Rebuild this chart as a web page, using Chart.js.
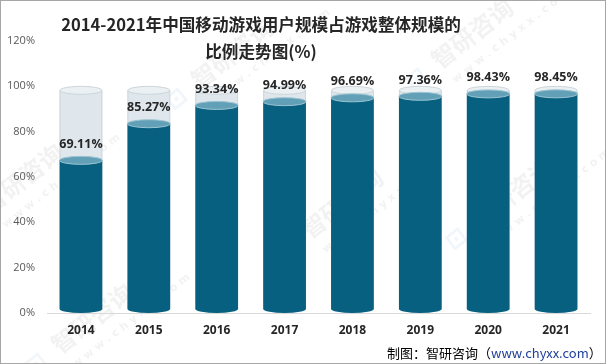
<!DOCTYPE html>
<html lang="zh">
<head>
<meta charset="UTF-8">
<title>2014-2021年中国移动游戏用户规模占游戏整体规模的比例走势图</title>
<script src="https://cdn.jsdelivr.net/npm/chart.js"></script>
<style>
  html, body { margin: 0; padding: 0; background: #fff; }
  #wrap { width: 606px; height: 364px; }
</style>
</head>
<body>
<div id="wrap"><canvas id="chart" width="606" height="364"></canvas></div>
<script>
// data
const years = ['2014', '2015', '2016', '2017', '2018', '2019', '2020', '2021'];
const shares = [69.11, 85.27, 93.34, 94.99, 96.69, 97.36, 98.43, 98.45];
const fullShare = [100, 100, 100, 100, 100, 100, 100, 100];
const yTicks = [0, 20, 40, 60, 80, 100, 120];
const titleLines = ['2014-2021年中国移动游戏用户规模占游戏整体规模的', '比例走势图(%)'];
const sourceLabel = '制图：智研咨询（';
const sourceUrl = 'www.chyxx.com';
const sourceEnd = '）';

const DARK = '#07607f';
const DARK_TOP = '#62a0b7';
const GHOST = '#dfe7ec';
const GHOST_TOP = '#ebf0f3';
const GHOST_EDGE = '#cdd6db';

function ellipse(ctx, x, y, rx, ry, fill, stroke) {
    ctx.beginPath();
    ctx.ellipse(x, y, rx, ry, 0, 0, Math.PI * 2);
    ctx.fillStyle = fill;
    ctx.fill();
    if (stroke) {
        ctx.strokeStyle = stroke;
        ctx.lineWidth = 1;
        ctx.stroke();
    }
}

function watermark(ctx, x, y) {
    ctx.save();
    ctx.translate(x, y);
    ctx.rotate(-38 * Math.PI / 180);
    ctx.globalAlpha = 0.08;
    ctx.fillStyle = '#4a90c8';
    ctx.font = 'bold 24px "Noto Sans CJK SC"';
    ctx.fillText('⊡', -34, 0);
    ctx.fillStyle = '#555';
    ctx.fillText('智研咨询', 0, 0);
    ctx.font = 'bold 11px "DejaVu Sans"';
    ctx.fillText('w w w . c h y x x . c o m', 4, 20);
    ctx.restore();
}

const cylinders = {
    id: 'cylinders',
    beforeDraw(chart) {
        const ctx = chart.ctx;
        ctx.save();
        ctx.fillStyle = '#fff';
        ctx.fillRect(0, 0, chart.width, chart.height);
        watermark(ctx, 200, 90);
        watermark(ctx, 440, 70);
        watermark(ctx, -10, 215);
        watermark(ctx, 60, 355);
        watermark(ctx, 310, 240);
        watermark(ctx, 480, 230);
        ctx.restore();
    },
    afterDatasetsDraw(chart) {
        const ctx = chart.ctx;
        const ghost = chart.getDatasetMeta(0).data;
        const vals = chart.getDatasetMeta(1).data;
        ctx.save();
        vals.forEach((bar, i) => {
            const g = ghost[i];
            const x = bar.x, w = bar.width, rx = w / 2, ry = 4;
            const base = bar.base;
            // empty part of the cylinder up to 100%
            ctx.fillStyle = GHOST;
            ctx.fillRect(x - rx, g.y + ry, w, base - ry - g.y - ry);
            ctx.strokeStyle = GHOST_EDGE;
            ctx.lineWidth = 1;
            ctx.beginPath();
            ctx.moveTo(x - rx + 0.5, g.y + ry);
            ctx.lineTo(x - rx + 0.5, bar.y + ry);
            ctx.moveTo(x + rx - 0.5, g.y + ry);
            ctx.lineTo(x + rx - 0.5, bar.y + ry);
            ctx.stroke();
            ellipse(ctx, x, g.y + ry, rx - 0.5, ry, GHOST_TOP, GHOST_EDGE);
            // filled part
            ctx.fillStyle = DARK;
            ctx.fillRect(x - rx, bar.y + ry, w, base - ry - bar.y - ry);
            ctx.beginPath();
            ctx.ellipse(x, base - ry, rx, ry, 0, 0, Math.PI);
            ctx.fill();
            ellipse(ctx, x, bar.y + ry, rx, ry, DARK_TOP, '#9cc4d2');
            // value label
            ctx.fillStyle = '#262626';
            ctx.font = 'bold 12.5px "Open Sans"';
            ctx.textAlign = 'center';
            ctx.textBaseline = 'middle';
            ctx.fillText(shares[i].toFixed(2) + '%', x, bar.y - 12);
        });
        ctx.restore();
    },
    afterDraw(chart) {
        const ctx = chart.ctx;
        ctx.save();
        // title
        ctx.fillStyle = '#262626';
        ctx.font = 'bold 16.6px "Noto Sans CJK SC"';
        ctx.textAlign = 'center';
        ctx.textBaseline = 'middle';
        ctx.fillText(titleLines[0], 261, 25);
        ctx.fillText(titleLines[1], 261, 52);
        // source
        ctx.font = '13px "Noto Sans CJK SC"';
        ctx.textAlign = 'left';
        let sx = 387;
        ctx.fillStyle = '#000';
        ctx.fillText(sourceLabel, sx, 353);
        sx += ctx.measureText(sourceLabel).width;
        ctx.fillStyle = '#1f3f9a';
        ctx.fillText(sourceUrl, sx, 353);
        sx += ctx.measureText(sourceUrl).width;
        ctx.fillStyle = '#000';
        ctx.fillText(sourceEnd, sx, 353);
        // frame
        ctx.strokeStyle = '#a6a6a6';
        ctx.lineWidth = 1;
        ctx.strokeRect(0.5, 0.5, chart.width - 1, chart.height - 1);
        ctx.restore();
    }
};

new Chart(document.getElementById('chart'), {
    type: 'bar',
    data: {
        labels: years,
        datasets: [
            { label: '整体', data: fullShare, backgroundColor: 'rgba(0,0,0,0)', grouped: false },
            { label: '占比', data: shares, backgroundColor: 'rgba(0,0,0,0)', grouped: false }
        ]
    },
    options: {
        responsive: false,
        animation: false,
        layout: { padding: { top: 41, left: 0, right: 16, bottom: 21 } },
        datasets: { bar: { categoryPercentage: 1, barPercentage: 0.63 } },
        plugins: { legend: { display: false }, title: { display: false }, tooltip: { enabled: false } },
        scales: {
            x: {
                grid: { display: false, drawTicks: false },
                border: { color: '#d9d9d9' },
                ticks: { color: '#262626', font: { family: '"Open Sans"', size: 12, weight: 'bold' }, padding: 10 },
                afterFit(scale) { scale.height = 30; }
            },
            y: {
                min: 0,
                max: 120,
                afterBuildTicks(scale) { scale.ticks = yTicks.map(v => ({ value: v })); },
                grid: { display: false, drawTicks: false },
                border: { display: false },
                ticks: {
                    color: '#595959',
                    font: { family: '"Open Sans"', size: 11 },
                    padding: 12,
                    callback: v => v + '%'
                },
                afterFit(scale) { scale.width = 47; }
            }
        }
    },
    plugins: [cylinders]
});
</script>
</body>
</html>
